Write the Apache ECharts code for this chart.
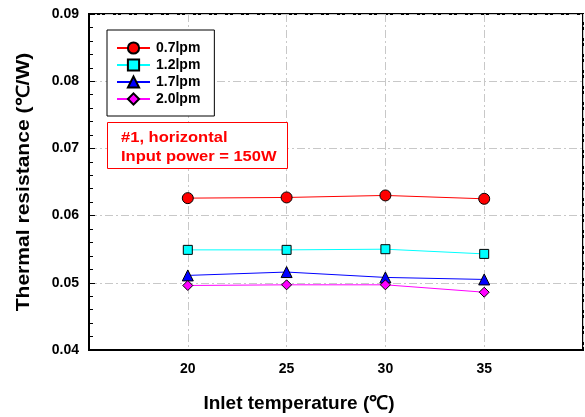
<!DOCTYPE html>
<html><head><meta charset="utf-8">
<script src="https://cdn.jsdelivr.net/npm/echarts@6/dist/echarts.min.js"></script>
<style>html,body{margin:0;padding:0;background:#fff}#c{width:585px;height:417px}</style>
</head><body><div id="c"></div>
<script>
var temps = [20, 25, 30, 35];
var s07 = [0.0626, 0.0627, 0.0630, 0.0625];
var s12 = [0.0549, 0.0549, 0.0550, 0.0543];
var s17 = [0.0511, 0.0516, 0.0508, 0.0505];
var s20 = [0.0496, 0.0497, 0.0497, 0.0486];
var names = ['0.7lpm', '1.2lpm', '1.7lpm', '2.0lpm'];
var F = 'Liberation Sans, Arial, sans-serif';
function pts(v){ return temps.map(function(t,i){return [t, v[i]];}); }
function ser(name, vals, color, symbol, size){
  return {name:name, type:'line', data:pts(vals), symbol:symbol, symbolSize:size,
    lineStyle:{color:color, width:1}, itemStyle:{color:color, borderColor:'#000', borderWidth:1}, z:5};
}
var chart = echarts.init(document.getElementById('c'));
var dash = [8,3,2,3];
chart.setOption({
  animation:false,
  grid:{left:89, right:2, top:14, bottom:67, show:true, borderColor:'#000', borderWidth:2,
    containLabel:false, outerBoundsMode:'none'},
  xAxis:{type:'value', min:15, max:40, interval:5,
    name:'Inlet temperature (℃)', nameLocation:'middle', nameGap:44,
    nameTextStyle:{fontFamily:F, fontWeight:'bold', fontSize:19, color:'#000', padding:[0,74,0,0]},
    axisLine:{lineStyle:{color:'#000', width:2}},
    axisTick:{show:false},
    axisLabel:{fontFamily:F, fontWeight:'bold', fontSize:14, color:'#000', margin:12,
      formatter:function(v){return (v===15||v===40)?'':String(v);}},
    splitLine:{show:true, lineStyle:{color:'#c8c8c8', type:dash, width:1}}
  },
  yAxis:{type:'value', min:0.04, max:0.09, interval:0.01,
    axisLine:{lineStyle:{color:'#000', width:2}},
    axisTick:{show:true, inside:true, length:6, lineStyle:{color:'#000', width:1}},
    minorTick:{show:true, splitNumber:5, length:4, lineStyle:{color:'#000', width:1}},
    axisLabel:{fontFamily:F, fontWeight:'bold', fontSize:14, color:'#000', margin:10,
      formatter:function(v){return v.toFixed(2);}},
    splitLine:{show:true, lineStyle:{color:'#c8c8c8', type:dash, width:1}}
  },
  legend:{orient:'vertical', left:107, top:30,
    backgroundColor:'#fff', borderColor:'#000', borderWidth:1,
    padding:[11, 14, 10, 9], itemWidth:33, itemHeight:14, itemGap:3,
    textStyle:{fontFamily:F, fontWeight:'bold', fontSize:14, color:'#000', padding:[0,0,0,1]},
    data:names},
  graphic:[
    {type:'text', x:24, y:182, rotation:Math.PI/2, scaleX:1.17, z:11,
      style:{text:'Thermal resistance (℃/W)', fill:'#000', font:'bold 18px '+F, align:'center', verticalAlign:'middle'}},
    {type:'rect', left:107, top:122, shape:{width:180, height:46},
      style:{fill:'#fff', stroke:'#ff0000', lineWidth:1}, z:10},
    {type:'text', x:121, y:129, scaleX:1.18, z:11,
      style:{text:'#1, horizontal\nInput power = 150W', fill:'#ff0000', font:'bold 14px '+F, lineHeight:19}}
  ],
  series:[
    ser(names[0], s07, '#ff0000', 'circle', 11),
    ser(names[1], s12, '#00ffff', 'rect', 9),
    ser(names[2], s17, '#0000ff', 'triangle', 11),
    ser(names[3], s20, '#ff00ff', 'diamond', 10)
  ]
});
</script></body></html>
